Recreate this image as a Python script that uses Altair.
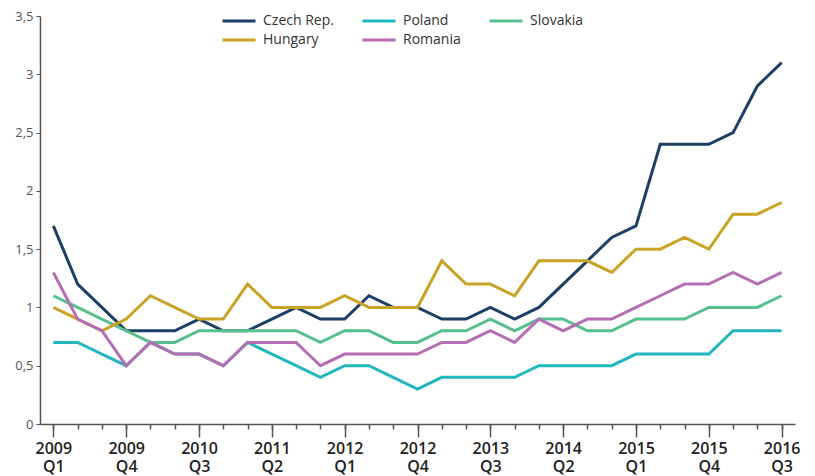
import altair as alt
import pandas as pd

quarters = [
    "2009 Q1", "2009 Q2", "2009 Q3", "2009 Q4",
    "2010 Q1", "2010 Q2", "2010 Q3", "2010 Q4",
    "2011 Q1", "2011 Q2", "2011 Q3", "2011 Q4",
    "2012 Q1", "2012 Q2", "2012 Q3", "2012 Q4",
    "2013 Q1", "2013 Q2", "2013 Q3", "2013 Q4",
    "2014 Q1", "2014 Q2", "2014 Q3", "2014 Q4",
    "2015 Q1", "2015 Q2", "2015 Q3", "2015 Q4",
    "2016 Q1", "2016 Q2", "2016 Q3",
]
tick_labels = quarters[::3]

czech = [1.7, 1.2, 1.0, 0.8, 0.8, 0.8, 0.9, 0.8, 0.8, 0.9, 1.0, 0.9, 0.9, 1.1, 1.0, 1.0,
         0.9, 0.9, 1.0, 0.9, 1.0, 1.2, 1.4, 1.6, 1.7, 2.4, 2.4, 2.4, 2.5, 2.9, 3.1]
hungary = [1.0, 0.9, 0.8, 0.9, 1.1, 1.0, 0.9, 0.9, 1.2, 1.0, 1.0, 1.0, 1.1, 1.0, 1.0, 1.0,
           1.4, 1.2, 1.2, 1.1, 1.4, 1.4, 1.4, 1.3, 1.5, 1.5, 1.6, 1.5, 1.8, 1.8, 1.9]
poland = [0.7, 0.7, 0.6, 0.5, 0.7, 0.6, 0.6, 0.5, 0.7, 0.6, 0.5, 0.4, 0.5, 0.5, 0.4, 0.3,
          0.4, 0.4, 0.4, 0.4, 0.5, 0.5, 0.5, 0.5, 0.6, 0.6, 0.6, 0.6, 0.8, 0.8, 0.8]
romania = [1.3, 0.9, 0.8, 0.5, 0.7, 0.6, 0.6, 0.5, 0.7, 0.7, 0.7, 0.5, 0.6, 0.6, 0.6, 0.6,
           0.7, 0.7, 0.8, 0.7, 0.9, 0.8, 0.9, 0.9, 1.0, 1.1, 1.2, 1.2, 1.3, 1.2, 1.3]
slovakia = [1.1, 1.0, 0.9, 0.8, 0.7, 0.7, 0.8, 0.8, 0.8, 0.8, 0.8, 0.7, 0.8, 0.8, 0.7, 0.7,
            0.8, 0.8, 0.9, 0.8, 0.9, 0.9, 0.8, 0.8, 0.9, 0.9, 0.9, 1.0, 1.0, 1.0, 1.1]

series_names = ["Czech Rep.", "Poland", "Slovakia", "Hungary", "Romania"]
series_values = [czech, poland, slovakia, hungary, romania]
series_colors = ["#1d3f66", "#22b6bf", "#55c08c", "#c9a325", "#b56db3"]
draw_order = {"Czech Rep.": 0, "Hungary": 1, "Poland": 2, "Romania": 3, "Slovakia": 4}

rows = []
for name, vals in zip(series_names, series_values):
    for q, v in zip(quarters, vals):
        rows.append({"quarter": q, "value": v, "country": name, "order": draw_order[name]})
df = pd.DataFrame(rows)

FONT = "Open Sans"

x_scale = alt.Scale(domain=quarters, type="point", padding=0.55)
y_scale = alt.Scale(domain=[0, 3.5], nice=False)

lines = alt.Chart(df).mark_line(strokeWidth=3, strokeJoin="miter").encode(
    x=alt.X("quarter:O", scale=x_scale, sort=quarters,
            axis=alt.Axis(values=tick_labels, title=None, labelAngle=0, orient="bottom",
                          labelExpr="split(datum.value, ' ')",
                          labelFont=FONT, labelFontSize=16, labelFontWeight=600,
                          labelColor="#222222", labelLineHeight=18, labelPadding=3,
                          tickSize=13, tickColor="#555555", tickWidth=1.5,
                          domainColor="#555555", domainWidth=1.5, grid=False)),
    y=alt.Y("value:Q", scale=y_scale,
            axis=alt.Axis(values=[0, 0.5, 1, 1.5, 2, 2.5, 3, 3.5], title=None,
                          labelExpr="replace(format(datum.value, '.1~f'), '.', ',')",
                          labelFont=FONT, labelFontSize=13, labelColor="#555555",
                          labelPadding=3, tickSize=4, tickColor="#555555",
                          domainColor="#555555", domainWidth=1.5, grid=False)),
    color=alt.Color("country:N",
                    scale=alt.Scale(domain=series_names, range=series_colors),
                    legend=alt.Legend(title=None, orient="none", direction="horizontal",
                                      columns=3, legendX=192, legendY=-2,
                                      symbolType="M-3.3,0H3.3", symbolSize=100,
                                      symbolStrokeWidth=3, labelFont=FONT,
                                      labelFontSize=14, labelColor="#333333",
                                      labelOffset=17, columnPadding=22, rowPadding=5,
                                      padding=0)),
    detail="country:N",
    order="order:Q",
)

minor = alt.Chart(df).mark_line(strokeOpacity=0).encode(
    x=alt.X("quarter:O", scale=x_scale, sort=quarters,
            axis=alt.Axis(values=quarters, title=None, labels=False, domain=False,
                          orient="bottom",
                          tickSize=5, tickColor="#555555", tickWidth=1.5, grid=False)),
    y=alt.Y("value:Q", scale=y_scale),
    detail="country:N",
)

chart = alt.layer(lines, minor).resolve_axis(x="independent").properties(
    width=755, height=408,
    autosize=alt.AutoSizeParams(type="none"),
    padding={"left": 32, "top": 8, "right": 12, "bottom": 56},
).configure_view(stroke=None)

chart.save("out.html", embed_options={"renderer": "svg", "actions": False})
